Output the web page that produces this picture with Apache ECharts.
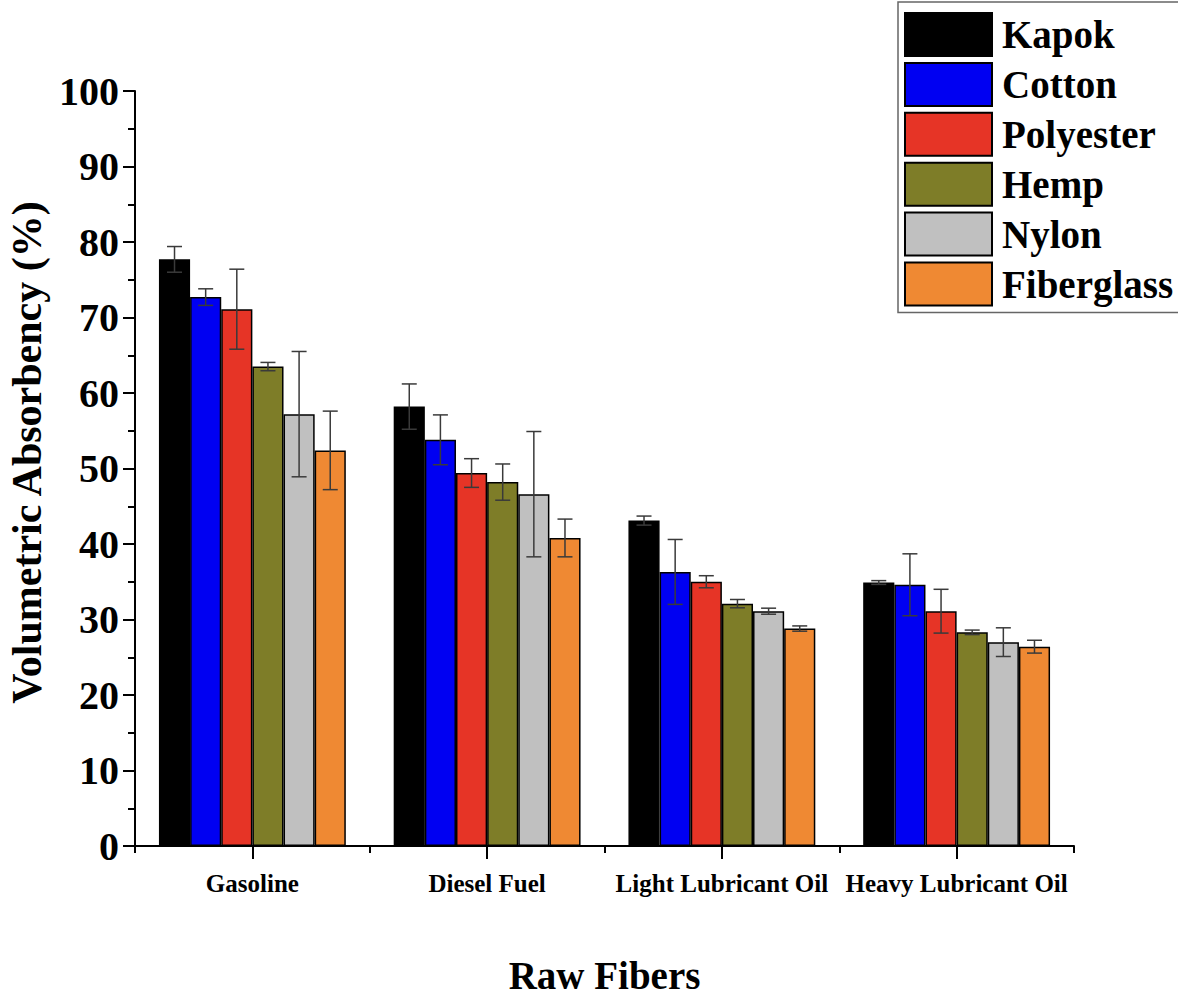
<!DOCTYPE html>
<html>
<head>
<meta charset="utf-8">
<script src="https://cdn.jsdelivr.net/npm/echarts@6/dist/echarts.min.js"></script>
<style>
html,body{margin:0;padding:0;background:#fff;}
#chart{width:1178px;height:996px;}
</style>
</head>
<body>
<div id="chart"></div>
<script>
const categories = ['Gasoline', 'Diesel Fuel', 'Light Lubricant Oil', 'Heavy Lubricant Oil'];
const fiberNames = ['Kapok', 'Cotton', 'Polyester', 'Hemp', 'Nylon', 'Fiberglass'];
const kapok = [77.7, 58.2, 43.1, 34.9];
const kapokErr = [1.7, 3.0, 0.6, 0.25];
const cotton = [72.7, 53.8, 36.3, 34.6];
const cottonErr = [1.1, 3.3, 4.3, 4.1];
const polyester = [71.1, 49.4, 35.0, 31.1];
const polyesterErr = [5.3, 1.9, 0.8, 2.9];
const hemp = [63.5, 48.2, 32.1, 28.3];
const hempErr = [0.55, 2.4, 0.55, 0.3];
const nylon = [57.2, 46.6, 31.1, 27.0];
const nylonErr = [8.3, 8.3, 0.4, 1.9];
const fiberglass = [52.4, 40.8, 28.8, 26.4];
const fiberglassErr = [5.2, 2.5, 0.35, 0.85];
const yTicks = [0, 10, 20, 30, 40, 50, 60, 70, 80, 90, 100];

const values = [kapok, cotton, polyester, hemp, nylon, fiberglass];
const errors = [kapokErr, cottonErr, polyesterErr, hempErr, nylonErr, fiberglassErr];
const colors = ['#000000', '#0000F2', '#E63426', '#7E7D28', '#C0C0C0', '#EF8933'];

const FONT = '"Liberation Serif", "Times New Roman", serif';
const CAT_GAP = 0.204;
const N = fiberNames.length;

const chart = echarts.init(document.getElementById('chart'), null, {renderer: 'svg'});

const series = [];
fiberNames.forEach((name, k) => {
  series.push({
    name: name,
    type: 'bar',
    data: values[k],
    barGap: '0%',
    barCategoryGap: (CAT_GAP * 100) + '%',
    itemStyle: {color: colors[k], borderColor: '#000', borderWidth: 1.5},
    z: 2
  });
});
fiberNames.forEach((name, k) => {
  series.push({
    name: name + ' error',
    type: 'custom',
    z: 5,
    silent: true,
    data: categories.map((c, i) => [i, values[k][i], errors[k][i]]),
    renderItem: function (params, api) {
      const ci = api.value(0), v = api.value(1), e = api.value(2);
      const catW = api.size([1, 0])[0];
      const barW = catW * (1 - CAT_GAP) / N;
      const top = api.coord([ci, v + e]);
      const bot = api.coord([ci, v - e]);
      const x = top[0] + (k - (N - 1) / 2) * barW;
      const cap = 7.5;
      const st = {stroke: '#3a3a3a', lineWidth: 1.5};
      return {
        type: 'group',
        children: [
          {type: 'line', shape: {x1: x, y1: top[1], x2: x, y2: bot[1]}, style: st},
          {type: 'line', shape: {x1: x - cap, y1: top[1], x2: x + cap, y2: top[1]}, style: st},
          {type: 'line', shape: {x1: x - cap, y1: bot[1], x2: x + cap, y2: bot[1]}, style: st}
        ]
      };
    }
  });
});

const option = {
  backgroundColor: '#fff',
  animation: false,
  grid: {left: 135, right: 104, top: 91, bottom: 150, containLabel: false, outerBoundsMode: 'none'},
  legend: {
    data: fiberNames,
    orient: 'vertical',
    left: 898,
    top: 2,
    icon: 'rect',
    itemWidth: 87,
    itemHeight: 43,
    itemGap: 4.9,
    padding: [10, 12, 6, 6],
    borderColor: '#666',
    borderWidth: 1.5,
    textStyle: {fontFamily: FONT, fontWeight: 'bold', fontSize: 39, lineHeight: 43, color: '#000', padding: [0, 0, 0, 5]}
  },
  xAxis: [
    {
      type: 'category',
      data: categories,
      position: 'bottom',
      name: 'Raw Fibers',
      nameLocation: 'middle',
      nameGap: 110,
      nameTextStyle: {fontFamily: FONT, fontWeight: 'bold', fontSize: 39, lineHeight: 38, color: '#000'},
      axisLine: {lineStyle: {color: '#000', width: 2}},
      axisTick: {show: true, alignWithLabel: false, length: 7, lineStyle: {color: '#000', width: 2}},
      axisLabel: {fontFamily: FONT, fontWeight: 'bold', fontSize: 25, color: '#000', margin: 25, interval: 0}
    },
    {
      type: 'category',
      data: categories,
      position: 'bottom',
      axisLine: {show: false},
      axisTick: {show: true, alignWithLabel: true, length: 13, lineStyle: {color: '#000', width: 2}},
      axisLabel: {show: false}
    }
  ],
  yAxis: {
    type: 'value',
    min: yTicks[0],
    max: yTicks[yTicks.length - 1],
    interval: 10,
    name: 'Volumetric Absorbency (%)',
    nameLocation: 'middle',
    nameGap: 87,
    nameTextStyle: {fontFamily: FONT, fontWeight: 'bold', fontSize: 42, color: '#000', padding: [0, 0, 0, 32]},
    splitLine: {show: false},
    axisLine: {show: true, lineStyle: {color: '#000', width: 2}},
    axisTick: {show: true, length: 12, lineStyle: {color: '#000', width: 2}},
    minorTick: {show: true, splitNumber: 2, length: 7, lineStyle: {color: '#000', width: 2}},
    axisLabel: {fontFamily: FONT, fontWeight: 'bold', fontSize: 40, color: '#000', margin: 16}
  },
  series: series
};
chart.setOption(option);
</script>
</body>
</html>
